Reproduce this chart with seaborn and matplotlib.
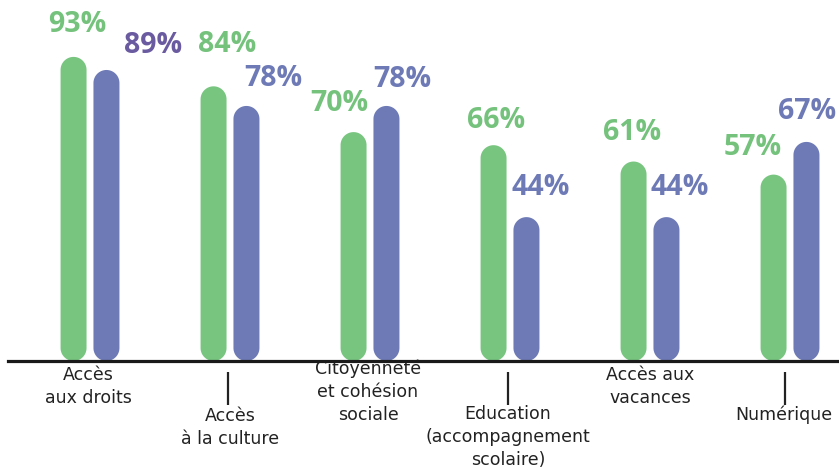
import pandas as pd
import numpy as np
import matplotlib
matplotlib.use("Agg")
import matplotlib.pyplot as plt
from matplotlib.patches import Polygon
import seaborn as sns

# data
categories = ["Accès\naux droits", "Accès\nà la culture", "Citoyenneté\net cohésion\nsociale",
              "Education\n(accompagnement\nscolaire)", "Accès aux\nvacances", "Numérique"]
series_names = ["A", "B"]
values_a = [93, 84, 70, 66, 61, 57]
values_b = [89, 78, 78, 44, 44, 67]

green = "#78c580"
purple = "#6d7ab6"
label_colors_a = ["#74c27c"] * 6
label_colors_b = ["#6a5ba0", "#6d7ab6", "#6d7ab6", "#6d7ab6", "#6d7ab6", "#6d7ab6"]

# label offsets (pixels): dx from bar centre, dy above bar top
offs_a = [(4, 32), (14, 42), (-14, 29), (3, 25), (-1, 29), (-21, 27)]
offs_b = [(47, 24), (27, 27), (16, 26), (14, 30), (13, 30), (1, 30)]
# category label layout: dx (px), top of text (px from figure top); tick marks on alternate groups
cat_layout = [(-2, 366), (0, 407), (-2, 360), (-2, 405), (0, 366), (-6, 405)]
tick_groups = [1, 3, 5]
tick_dx = [-2, -2, -5]

df = pd.DataFrame({
    "cat": categories * 2,
    "serie": [series_names[0]] * 6 + [series_names[1]] * 6,
    "val": values_a + values_b,
})

sns.set_style("white")
plt.rcParams["font.family"] = ["Open Sans", "DejaVu Sans"]

W, H = 839, 470
fig = plt.figure(figsize=(W / 100, H / 100), dpi=100)
base_py = 361
px_per_unit_y = 3.27
ax = fig.add_axes([8 / W, 1 - base_py / H, 831 / W, base_py / H])

sns.barplot(data=df, x="cat", y="val", hue="serie", palette=[green, purple],
            width=0.47, gap=0.21, legend=False, ax=ax, saturation=1)

ax.set_xlim((8 - 90) / 140, (839 - 90) / 140)
ax.set_ylim(0, base_py / px_per_unit_y)

# rounded bars: replace each seaborn bar by a capsule of the same size
x0, x1 = ax.get_xlim()
y0, y1 = ax.get_ylim()
px_per_x = 831 / (x1 - x0)
aspect = ((y1 - y0) / base_py) * px_per_x
t = np.linspace(0, np.pi, 40)
bars = []
for p in list(ax.patches):
    x, w, h = p.get_x(), p.get_width(), p.get_height()
    fc = p.get_facecolor()
    p.remove()
    r = w / 2
    ry = r * aspect
    xc = x + r
    top = np.column_stack([xc + r * np.cos(t), h - ry + ry * np.sin(t)])
    bot = np.column_stack([xc - r * np.cos(t), ry - ry * np.sin(t)])
    ax.add_patch(Polygon(np.vstack([top, bot]), closed=True, facecolor=fc,
                         edgecolor="none", zorder=2))
    bars.append((xc, h))

# value labels
n = len(categories)
for i in range(n):
    for (xc, h), v, (dx, dy), col in [(bars[i], values_a[i], offs_a[i], label_colors_a[i]),
                                      (bars[n + i], values_b[i], offs_b[i], label_colors_b[i])]:
        ax.annotate(f"{v}%", xy=(xc, h), xytext=(dx, dy), textcoords="offset pixels",
                    ha="center", va="center", fontsize=20.5, fontweight="bold", color=col)

# axis styling
for s in ["top", "left", "right"]:
    ax.spines[s].set_visible(False)
ax.spines["bottom"].set_linewidth(2.3)
ax.spines["bottom"].set_color("#1a1a1a")
ax.spines["bottom"].set_zorder(3)
ax.set_yticks([])
ax.set_xticks([])
ax.set_xlabel("")
ax.set_ylabel("")

# category labels, staggered
for i, (dx, top) in enumerate(cat_layout):
    ax.annotate(categories[i], xy=(i, 0), xytext=(dx, base_py - top), textcoords="offset pixels",
                ha="center", va="top", fontsize=12.5, color="#222222", family="DejaVu Sans",
                linespacing=1.35, annotation_clip=False)
trans = ax.get_xaxis_transform()
tick_x = [g + d / px_per_x for g, d in zip(tick_groups, tick_dx)]
ax.vlines(tick_x, -(405 - base_py) / base_py, -(372 - base_py) / base_py,
          transform=trans, colors="#222222", linewidth=1.6, clip_on=False)

fig.savefig("out.png", dpi=100)
